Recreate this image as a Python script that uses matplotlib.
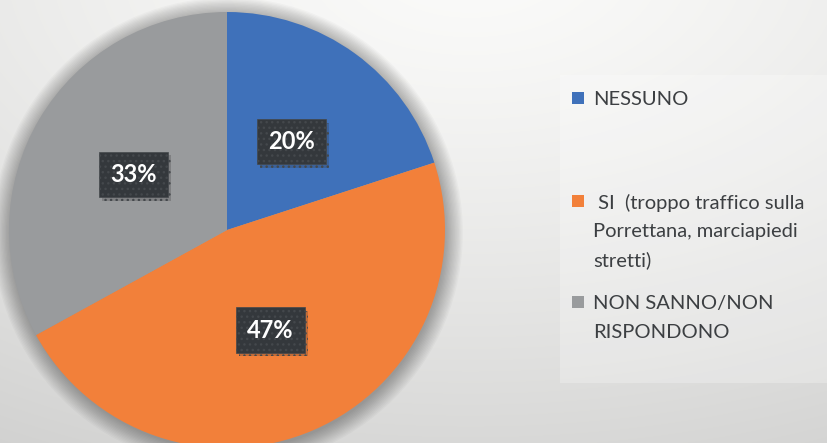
import matplotlib
matplotlib.use("Agg")
import matplotlib.pyplot as plt
import matplotlib.patheffects as pe
from matplotlib.patches import Rectangle, Circle
import numpy as np

# data
labels = ["NESSUNO", " SI  (troppo traffico sulla\nPorrettana, marciapiedi\nstretti)", "NON SANNO/NON\nRISPONDONO"]
values = [20, 47, 33]
colors = ["#3F71BA", "#F2803A", "#999B9D"]

plt.rcParams["font.family"] = ["Lato", "DejaVu Sans"]

W, H = 828, 443
fig = plt.figure(figsize=(W / 100, H / 100), dpi=100)

# background gradient, light at the top, grey towards the bottom
bg = fig.add_axes([0, 0, 1, 1])
yy, xx = np.mgrid[0:H, 0:W]
d = np.sqrt(((xx - 470) / 900.0) ** 2 + ((yy + 40) / 520.0) ** 2)
v = np.clip(0.985 - 0.15 * d ** 1.3, 0, 1)
bg.imshow(np.dstack([v, v, v * 0.995]), extent=[0, W, H, 0], aspect="auto")
bg.set_xlim(0, W)
bg.set_ylim(H, 0)
bg.axis("off")

# legend panel
bg.add_patch(Rectangle((560, 75), 270, 308, facecolor="white", alpha=0.25, edgecolor="none"))

# pie axes, centre (227, 230) px, radius 218 px
cx, cy, r = 227, 230, 218
ax = fig.add_axes([(cx - r) / W, (H - cy - r) / H, 2 * r / W, 2 * r / H])

# soft shadow round the pie
for k in range(14):
    ax.add_patch(Circle((0.004, -0.012), 1.0 + k * 0.006, facecolor="black",
                        alpha=0.024, edgecolor="none", zorder=0, clip_on=False))

wedges, texts = ax.pie(values, colors=colors, startangle=90, counterclock=False,
                       radius=1.0, wedgeprops=dict(linewidth=0))
for w in wedges:
    w.set_zorder(2)
    w.set_clip_on(False)
ax.set_xlim(-1, 1)
ax.set_ylim(-1, 1)
ax.axis("off")

# percentage labels in dark boxes
total = sum(values)
start = 90.0
for val in values:
    mid = np.deg2rad(start - 360.0 * val / total / 2)
    start -= 360.0 * val / total
    t = ax.text(0.5 * np.cos(mid), 0.5 * np.sin(mid), "%d%%" % round(100.0 * val / total),
                ha="center", va="center", color="white", fontsize=17, fontweight="bold",
                zorder=5,
                bbox=dict(boxstyle="square,pad=0.47", facecolor="#34383C",
                          edgecolor="#44484C", linewidth=0.5, hatch="..."))
    t.get_bbox_patch().set_path_effects([pe.SimplePatchShadow(offset=(2.5, -2.5), alpha=0.25,
                                                              shadow_rgbFace="#333333"),
                                         pe.Normal()])

# legend entries
first_line_y = [98, 201, 302.5]
line_step = 29
for lab, col, y0 in zip(labels, colors, first_line_y):
    bg.add_patch(Rectangle((572, y0 - 6.5), 12, 12, facecolor=col, edgecolor="none"))
    for i, line in enumerate(lab.split("\n")):
        bg.text(593, y0 + i * line_step, line, ha="left", va="center_baseline",
                fontsize=14.5, color="#3C3F42")

fig.savefig("out.png", dpi=100)
